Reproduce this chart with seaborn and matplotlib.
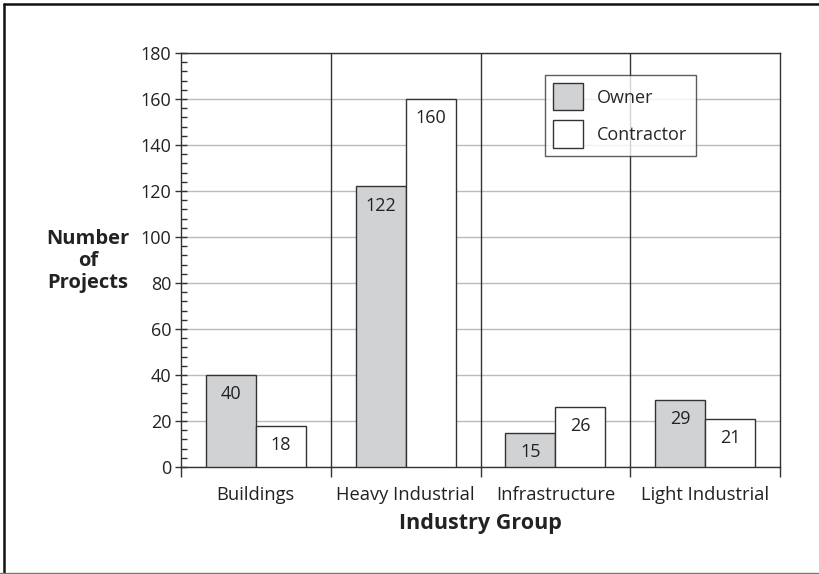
import matplotlib
matplotlib.use("Agg")
import matplotlib.pyplot as plt
import seaborn as sns
import pandas as pd
from matplotlib.ticker import MultipleLocator, FixedLocator
from matplotlib.patches import Patch
from matplotlib.lines import Line2D

categories = ["Buildings", "Heavy Industrial", "Infrastructure", "Light Industrial"]
owner = [40, 122, 15, 29]
contractor = [18, 160, 26, 21]
series_names = ["Owner", "Contractor"]
colors = ["#d1d2d4", "#ffffff"]

df = pd.DataFrame({
    "Industry": categories * 2,
    "Type": [series_names[0]] * 4 + [series_names[1]] * 4,
    "Count": owner + contractor,
})

sns.set_theme(style="white")
plt.rcParams["font.family"] = ["Open Sans", "DejaVu Sans"]

W, H = 819, 574
fig = plt.figure(figsize=(W/100, H/100), dpi=100)
ax = fig.add_axes([181/W, 1 - 467/H, (780 - 181)/W, (467 - 53)/H])

sns.barplot(data=df, x="Industry", y="Count", hue="Type", order=categories,
            hue_order=series_names, palette=colors, width=2/3, gap=0,
            edgecolor="#333333", linewidth=1.0, ax=ax, legend=False, zorder=3)

ax.set_xlim(-0.5, 3.5)
ax.set_ylim(0, 180)
ax.yaxis.set_major_locator(MultipleLocator(20))
ax.yaxis.set_minor_locator(MultipleLocator(4))
ax.yaxis.grid(True, which="major", color="#bbbbbb", linewidth=1.0, zorder=0)
ax.set_axisbelow(True)

for b in [0.5, 1.5, 2.5]:
    ax.axvline(b, color="#333333", linewidth=1.0, zorder=2)

ax.xaxis.set_major_locator(FixedLocator(range(4)))
ax.set_xticklabels(categories, fontsize=13.2, color="#222222")
ax.xaxis.set_minor_locator(FixedLocator([-0.5, 0.5, 1.5, 2.5, 3.5]))
ax.tick_params(axis="x", which="major", length=0, pad=14)
ax.tick_params(axis="x", which="minor", direction="out", length=7, width=1, color="#333333", bottom=True)
ax.tick_params(axis="y", which="major", direction="inout", length=8, width=1, color="#333333",
               labelsize=13, labelcolor="#222222", left=True, pad=3)
ax.tick_params(axis="y", which="minor", direction="in", length=4, width=1, color="#333333", left=True)

for s in ax.spines.values():
    s.set_visible(True)
    s.set_color("#333333")
    s.set_linewidth(1.0)

for container, vals in zip(ax.containers, [owner, contractor]):
    for bar, v in zip(container, vals):
        ax.text(bar.get_x() + bar.get_width()/2, v - 10.5, str(v), ha="center", va="baseline",
                fontsize=13, color="#222222", zorder=4)

ax.set_xlabel("Industry Group", fontsize=15.5, fontweight="bold", color="#222222", labelpad=6)
ax.set_ylabel("")
fig.text(88/W, 1 - 261/H, "Number\nof\nProjects", ha="center", va="center",
         fontsize=14.5, fontweight="bold", color="#222222", linespacing=1.12)

handles = [Patch(facecolor=c, edgecolor="#333333", linewidth=1.0) for c in colors]
leg = ax.legend(handles, series_names, loc="upper left",
                bbox_to_anchor=((545 - 181)/599, 1 - (75 - 53)/414),
                frameon=True, fancybox=False, fontsize=13, handlelength=1.65, handleheight=1.95,
                labelspacing=0.55, borderpad=0.45, handletextpad=0.8, borderaxespad=0)
leg.get_frame().set_edgecolor("#333333")
leg.get_frame().set_linewidth(1.0)
leg.set_zorder(5)

# page border (left/top dark, bottom gray)
fig.add_artist(Line2D([4/W, 4/W], [1 - 4/H, 0], transform=fig.transFigure, color="#111111", linewidth=1.8))
fig.add_artist(Line2D([4/W, 1], [1 - 4/H, 1 - 4/H], transform=fig.transFigure, color="#111111", linewidth=1.8))
fig.add_artist(Line2D([0, 1], [1 - 572.5/H, 1 - 572.5/H], transform=fig.transFigure, color="#777777", linewidth=1.0))

fig.savefig("out.png", dpi=100)
